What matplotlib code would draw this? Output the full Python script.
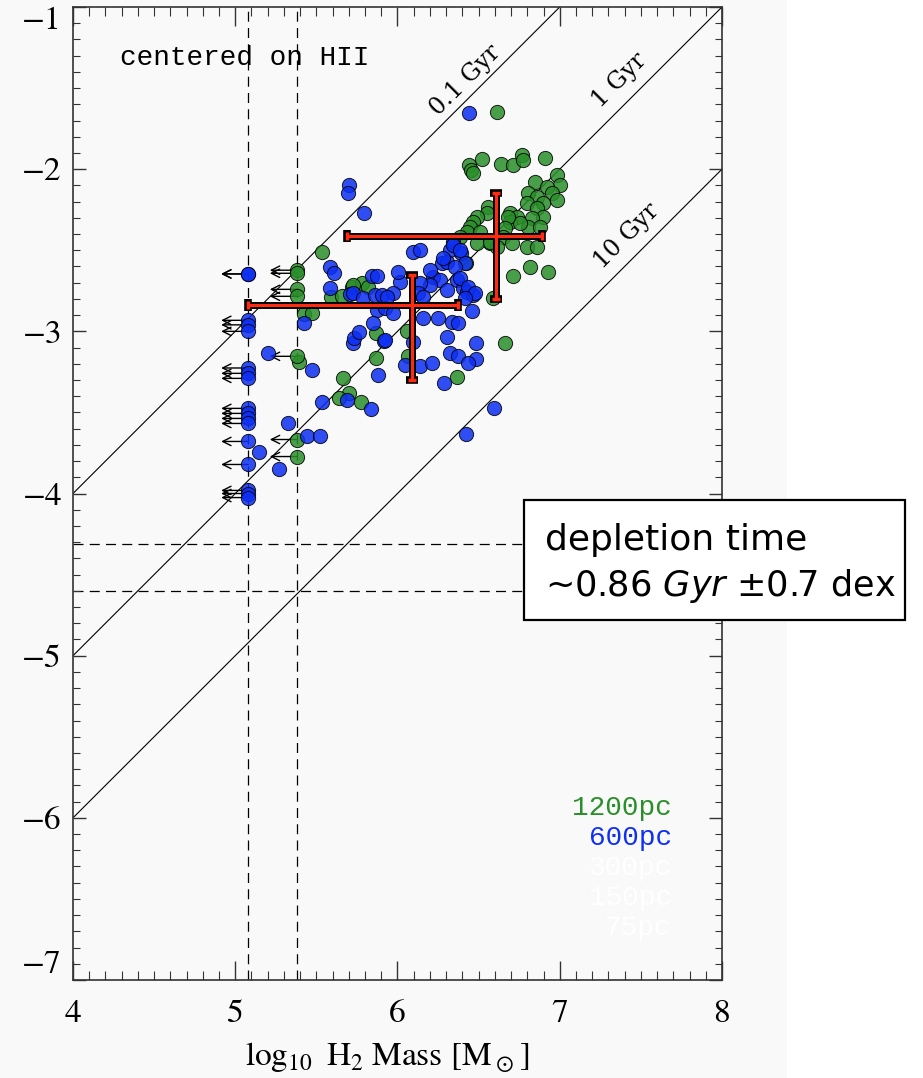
import matplotlib
matplotlib.use("Agg")
import numpy as np
import matplotlib.pyplot as plt
from matplotlib.patches import Rectangle
from matplotlib.ticker import MultipleLocator

plt.rcParams['font.family'] = 'STIXGeneral'
plt.rcParams['mathtext.fontset'] = 'custom'
plt.rcParams['mathtext.rm'] = 'STIXGeneral'
plt.rcParams['mathtext.it'] = 'DejaVu Sans:italic'
plt.rcParams['mathtext.fallback'] = 'stix'

# 1200pc apertures: log H2 mass, log SFR
green_mass = [6.613, 6.441, 6.453, 6.465, 6.521, 6.638, 6.712, 6.767, 6.774, 6.909,
              6.847, 6.983, 7.002, 6.921, 6.952, 6.983, 6.804, 6.860, 6.897, 6.798,
              6.860, 6.897, 6.829, 6.804, 6.878, 6.693, 6.737, 6.693, 6.755, 6.681,
              6.558, 6.552, 6.490, 6.465, 6.447, 6.428, 6.508, 6.663, 6.650, 6.570,
              6.706, 6.798, 6.860, 6.385, 6.490, 6.613, 6.570, 6.422, 6.817, 6.928,
              6.712, 6.589, 6.663, 6.367,
              5.535, 5.590, 5.658, 5.720, 5.781, 5.818, 5.726, 5.424, 5.473, 5.867,
              5.867, 5.664, 5.701, 5.640, 5.775, 6.059, 6.065, 5.393]
green_sfr = [-1.648, -1.975, -2.006, -2.025, -1.938, -1.969, -1.975, -1.914, -1.944, -1.932,
             -2.080, -2.037, -2.099, -2.111, -2.148, -2.191, -2.148, -2.173, -2.210, -2.210,
             -2.241, -2.296, -2.302, -2.358, -2.358, -2.272, -2.296, -2.327, -2.333, -2.296,
             -2.235, -2.272, -2.296, -2.327, -2.358, -2.389, -2.389, -2.364, -2.420, -2.457,
             -2.457, -2.481, -2.481, -2.420, -2.457, -2.481, -2.451, -2.580, -2.605, -2.636,
             -2.660, -2.796, -3.074, -3.284,
             -2.512, -2.790, -2.784, -2.728, -2.704, -2.728, -2.716, -2.895, -2.889, -3.167,
             -3.012, -3.290, -3.383, -3.414, -3.438, -3.000, -3.154, -3.191]
# 1200pc mass upper limits
green_lim_mass = 5.38
green_lim_sfr = [-2.623, -2.642, -2.741, -2.784, -3.154, -3.667, -3.772]

# 600pc apertures
blue_mass = [6.441, 5.701, 5.695, 5.794, 5.584, 5.609, 5.584, 5.843, 5.874, 5.707,
             5.726, 5.787, 5.861, 5.904, 5.874, 5.923, 5.424, 5.849, 5.972, 5.917,
             5.726, 5.732, 5.763, 5.880, 5.689, 5.535, 5.837, 5.202, 5.473, 5.325,
             5.442, 5.522, 5.146, 5.270, 6.096, 6.139, 6.324, 6.342, 6.391, 6.416,
             6.274, 6.305, 6.354, 6.015, 6.219, 6.262, 6.200, 6.139, 6.367, 6.404,
             6.428, 6.465, 5.972, 5.935, 6.126, 6.157, 6.200, 6.305, 6.385, 6.434,
             6.478, 6.416, 6.157, 6.250, 6.336, 6.373, 6.459, 5.923, 6.096, 6.305,
             6.484, 6.324, 6.373, 6.484, 6.434, 6.046, 6.139, 6.213, 6.287, 6.595,
             6.422, 6.342, 6.385, 6.280, 6.003]
blue_sfr = [-1.654, -2.099, -2.148, -2.272, -2.605, -2.642, -2.735, -2.660, -2.660, -2.772,
            -2.765, -2.796, -2.778, -2.778, -2.870, -2.858, -2.951, -2.951, -2.889, -3.062,
            -3.074, -3.043, -3.006, -3.272, -3.426, -3.438, -3.481, -3.136, -3.241, -3.568,
            -3.648, -3.648, -3.747, -3.846, -2.512, -2.500, -2.500, -2.451, -2.519, -2.580,
            -2.580, -2.574, -2.605, -2.698, -2.667, -2.685, -2.716, -2.704, -2.685, -2.735,
            -2.759, -2.778, -2.765, -2.790, -2.765, -2.790, -2.623, -2.747, -2.673, -2.728,
            -2.765, -2.796, -2.920, -2.920, -2.944, -2.951, -2.877, -3.056, -3.068, -3.037,
            -3.074, -3.136, -3.154, -3.173, -3.198, -3.210, -3.216, -3.198, -3.321, -3.475,
            -3.630, -2.469, -2.500, -2.549, -2.636]
# 600pc mass upper limits
blue_lim_mass = 5.08
blue_lim_sfr = [-2.646, -2.646, -2.932, -2.960, -3.000, -3.226, -3.259, -3.290, -3.475,
                -3.506, -3.537, -3.568, -3.679, -3.821, -3.981, -4.000, -4.025]

# binned medians with ranges
bin_mass = [6.09, 6.61]
bin_mass_lo = [5.08, 5.69]
bin_mass_hi = [6.37, 6.89]
bin_sfr = [-2.84, -2.41]
bin_sfr_lo = [-3.30, -2.80]
bin_sfr_hi = [-2.65, -2.15]

# SFR sensitivity limits
sfr_limits = [-4.31, -4.60]

# depletion time lines (Gyr) and label positions
tdep_gyr = [0.1, 1, 10]
tdep_labels = ['0.1 Gyr', '1 Gyr', '10 Gyr']
tdep_label_x = [6.42, 7.37, 7.41]
tdep_label_y = [-1.45, -1.45, -2.41]

scale_names = ['1200pc', '600pc', '300pc', '150pc', '75pc']
scale_colors = ['#2a8f2a', '#1030f0', 'white', 'white', 'white']

green = '#2a8f2a'
blue = '#0d2ff2'
label_font = 'Liberation Mono'

fig = plt.figure(figsize=(9.23, 10.78), dpi=100, facecolor='white')
fig.patches.append(Rectangle((0, 0), 787 / 923, 1, transform=fig.transFigure,
                             facecolor='#f9f9f9', edgecolor='none', zorder=-10))
ax = fig.add_axes([0.0791, 0.0909, 0.7031, 0.9026])
ax.set_facecolor('#f9f9f9')
ax.set_xlim(4, 8)
ax.set_ylim(-7, -1)

# constant depletion time lines
xx = np.array([4, 8])
for t in tdep_gyr:
    ax.plot(xx, xx - np.log10(t * 1e9), color='black', lw=0.8, zorder=1)
for lab, lx, ly in zip(tdep_labels, tdep_label_x, tdep_label_y):
    ax.text(lx, ly, lab, rotation=45, ha='center', va='center',
            family='DejaVu Serif', fontsize=17, zorder=2)

# detection limits
for xm in [blue_lim_mass, green_lim_mass]:
    ax.axvline(xm, color='black', lw=0.9, ls=(0, (8, 5)), zorder=1)
for ys in sfr_limits:
    ax.axhline(ys, color='black', lw=0.9, ls=(0, (8, 5)), zorder=1)

# upper limit arrows
arrow_len = 0.167
for xm, lims in [(green_lim_mass, green_lim_sfr), (blue_lim_mass, blue_lim_sfr)]:
    for ys in lims:
        ax.annotate('', xy=(xm - arrow_len, ys), xytext=(xm, ys),
                    arrowprops=dict(arrowstyle='->', lw=1.0, color='black',
                                    mutation_scale=15, shrinkA=0, shrinkB=0),
                    zorder=2)

# points
ax.scatter(green_mass + [green_lim_mass] * len(green_lim_sfr), green_sfr + green_lim_sfr,
           s=105, c=green, edgecolors='black', linewidths=0.7, alpha=0.85, zorder=3)
ax.scatter(blue_mass + [blue_lim_mass] * len(blue_lim_sfr), blue_sfr + blue_lim_sfr,
           s=105, c=blue, edgecolors='black', linewidths=0.7, alpha=0.85, zorder=4)

# binned ranges: black outline, red core
xerr = [np.subtract(bin_mass, bin_mass_lo), np.subtract(bin_mass_hi, bin_mass)]
yerr = [np.subtract(bin_sfr, bin_sfr_lo), np.subtract(bin_sfr_hi, bin_sfr)]
ax.errorbar(bin_mass, bin_sfr, xerr=xerr, yerr=yerr, fmt='none', ecolor='black',
            elinewidth=5, capsize=4, capthick=5.5, zorder=5)
ax.errorbar(bin_mass, bin_sfr, xerr=xerr, yerr=yerr, fmt='none', ecolor='#ff2a10',
            elinewidth=2.2, capsize=3, capthick=2.5, zorder=6)

ax.text(4.29, -1.315, 'centered on HII', family=label_font, fontsize=20,
        ha='left', va='center')

for i, (name, col) in enumerate(zip(scale_names, scale_colors)):
    ax.text(7.69, -5.94 - i * 0.185, name, color=col, family=label_font,
            fontsize=20, ha='right', va='center')

# axes styling
ax.xaxis.set_major_locator(MultipleLocator(1))
ax.xaxis.set_minor_locator(MultipleLocator(0.1))
ax.yaxis.set_major_locator(MultipleLocator(1))
ax.yaxis.set_minor_locator(MultipleLocator(0.1))
ax.tick_params(which='both', direction='in', top=True, right=True, color='#333333')
ax.tick_params(axis='x', which='major', length=13.5, width=1.0, labelsize=24, pad=14)
ax.tick_params(axis='x', which='minor', length=6.5, width=0.8)
ax.tick_params(axis='y', which='major', length=9.5, width=1.0, labelsize=24, pad=8)
ax.tick_params(axis='y', which='minor', length=5, width=0.8)
for sp in ax.spines.values():
    sp.set_linewidth(1.2)
    sp.set_color('#333333')
ax.set_xticks([4, 5, 6, 7, 8])
ax.set_yticks([-7, -6, -5, -4, -3, -2, -1])
yt = ax.yaxis.get_major_ticks()
yt[0].label1.set_va('bottom')
yt[-1].label1.set_va('top')

ax.set_xlabel(r'$\log_{10}$ H$_2$ Mass [M$_\odot$]', fontsize=24)
ax.xaxis.set_label_coords(0.484, -0.062)

# summary box
fig.patches.append(Rectangle((524 / 923, 1 - 620 / 1078), 381 / 923, 120 / 1078,
                             transform=fig.transFigure, facecolor='white',
                             edgecolor='black', lw=1.6, zorder=20))
fig.text(545 / 923, 1 - 540 / 1078, 'depletion time', family='DejaVu Sans',
         fontsize=26, va='center', ha='left', zorder=21)
fig.text(545 / 923, 1 - 586 / 1078, r'~0.86 $\mathit{Gyr}$ ±0.7 dex', family='DejaVu Sans',
         fontsize=25.3, va='center', ha='left', zorder=21)

fig.savefig('out.png', dpi=100, facecolor=fig.get_facecolor())
